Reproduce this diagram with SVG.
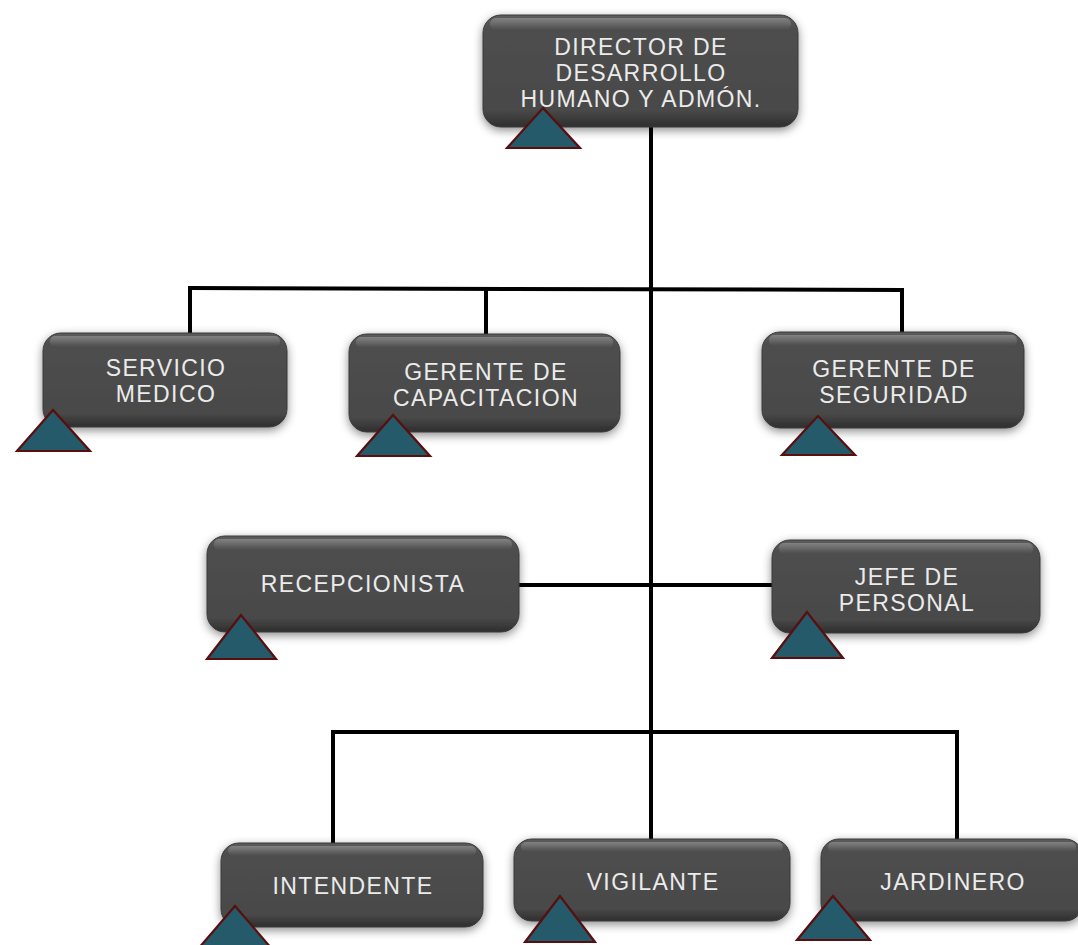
<svg xmlns="http://www.w3.org/2000/svg" width="1078" height="945" viewBox="0 0 1078 945">
  <defs>
    <linearGradient id="boxFill" x1="0" y1="0" x2="0" y2="1">
      <stop offset="0" stop-color="#5c5c5c"/>
      <stop offset="0.12" stop-color="#4e4e4e"/>
      <stop offset="0.85" stop-color="#494949"/>
      <stop offset="1" stop-color="#2e2e2e"/>
    </linearGradient>
    <linearGradient id="gloss" x1="0" y1="0" x2="0" y2="1">
      <stop offset="0" stop-color="#ffffff" stop-opacity="0.25"/>
      <stop offset="1" stop-color="#ffffff" stop-opacity="0"/>
    </linearGradient>
    <filter id="glow" x="-20%" y="-30%" width="140%" height="160%">
      <feDropShadow dx="0" dy="3" stdDeviation="5" flood-color="#000" flood-opacity="0.45"/>
    </filter>
  </defs>
  <style>
    .box { fill: url(#boxFill); stroke: #3a3a3a; stroke-width: 1; filter: url(#glow); }
    .gloss { fill: url(#gloss); }
    .tri { fill: #245a6a; stroke: #5a0e0e; stroke-width: 2.2; stroke-linejoin: miter; }
    .lbl { font-family: "Liberation Sans", Arial, sans-serif; font-size: 23px; letter-spacing: 1.4px; fill: #ebebeb; text-anchor: middle; }
    .wire { stroke: #000; stroke-width: 4; fill: none; stroke-linecap: butt; }
  </style>
  <rect width="1078" height="945" fill="#fff"/>

  <!-- connectors -->
  <g id="connectors">
    <path class="wire" d="M651 127 V842"/>
    <path class="wire" d="M190 288 L903 290"/>
    <path class="wire" d="M190 286 V334"/>
    <path class="wire" d="M486 288 V335"/>
    <path class="wire" d="M902 288 V333"/>
    <path class="wire" d="M519 585 H772"/>
    <path class="wire" d="M331 732 H958"/>
    <path class="wire" d="M333 730 V845"/>
    <path class="wire" d="M957 730 V848"/>
  </g>

  <g id="director">
    <rect class="box" x="483" y="15" width="315" height="112" rx="18"/>
    <rect class="gloss" x="490" y="18" width="301" height="12" rx="6"/>
    <text class="lbl" x="641" y="55">DIRECTOR DE</text>
    <text class="lbl" x="641" y="81">DESARROLLO</text>
    <text class="lbl" x="641" y="107">HUMANO Y ADMÓN.</text>
    <polygon class="tri" points="543,108 507,148 580,148"/>
  </g>

  <g id="servicio-medico">
    <rect class="box" x="43" y="333" width="244" height="94" rx="18"/>
    <rect class="gloss" x="50" y="336" width="230" height="11" rx="5"/>
    <text class="lbl" x="166" y="376">SERVICIO</text>
    <text class="lbl" x="166" y="402">MEDICO</text>
    <polygon class="tri" points="53,410 17,451 90,451"/>
  </g>

  <g id="gerente-capacitacion">
    <rect class="box" x="349" y="334" width="271" height="98" rx="18"/>
    <rect class="gloss" x="356" y="337" width="257" height="11" rx="5"/>
    <text class="lbl" x="486" y="380">GERENTE DE</text>
    <text class="lbl" x="486" y="406">CAPACITACION</text>
    <polygon class="tri" points="393,415 357,456 430,456"/>
  </g>

  <g id="gerente-seguridad">
    <rect class="box" x="762" y="332" width="262" height="96" rx="18"/>
    <rect class="gloss" x="769" y="335" width="248" height="11" rx="5"/>
    <text class="lbl" x="894" y="377">GERENTE DE</text>
    <text class="lbl" x="894" y="403">SEGURIDAD</text>
    <polygon class="tri" points="818,416 782,455 855,455"/>
  </g>

  <g id="recepcionista">
    <rect class="box" x="207" y="536" width="312" height="96" rx="18"/>
    <rect class="gloss" x="214" y="539" width="298" height="11" rx="5"/>
    <text class="lbl" x="363" y="592">RECEPCIONISTA</text>
    <polygon class="tri" points="241,615 207,659 276,659"/>
  </g>

  <g id="jefe-personal">
    <rect class="box" x="772" y="540" width="268" height="93" rx="18"/>
    <rect class="gloss" x="779" y="543" width="254" height="11" rx="5"/>
    <text class="lbl" x="907" y="585">JEFE DE</text>
    <text class="lbl" x="907" y="611">PERSONAL</text>
    <polygon class="tri" points="807,612 772,658 843,658"/>
  </g>

  <g id="intendente">
    <rect class="box" x="221" y="843" width="262" height="84" rx="18"/>
    <rect class="gloss" x="228" y="846" width="248" height="10" rx="5"/>
    <text class="lbl" x="353" y="894">INTENDENTE</text>
    <polygon class="tri" points="235,906 198,949 272,949"/>
  </g>

  <g id="vigilante">
    <rect class="box" x="514" y="839" width="276" height="82" rx="18"/>
    <rect class="gloss" x="521" y="842" width="262" height="10" rx="5"/>
    <text class="lbl" x="653" y="890">VIGILANTE</text>
    <polygon class="tri" points="560,896 525,942 595,942"/>
  </g>

  <g id="jardinero">
    <rect class="box" x="821" y="839" width="262" height="82" rx="18"/>
    <rect class="gloss" x="828" y="842" width="248" height="10" rx="5"/>
    <text class="lbl" x="953" y="890">JARDINERO</text>
    <polygon class="tri" points="833,896 797,940 870,940"/>
  </g>
</svg>
